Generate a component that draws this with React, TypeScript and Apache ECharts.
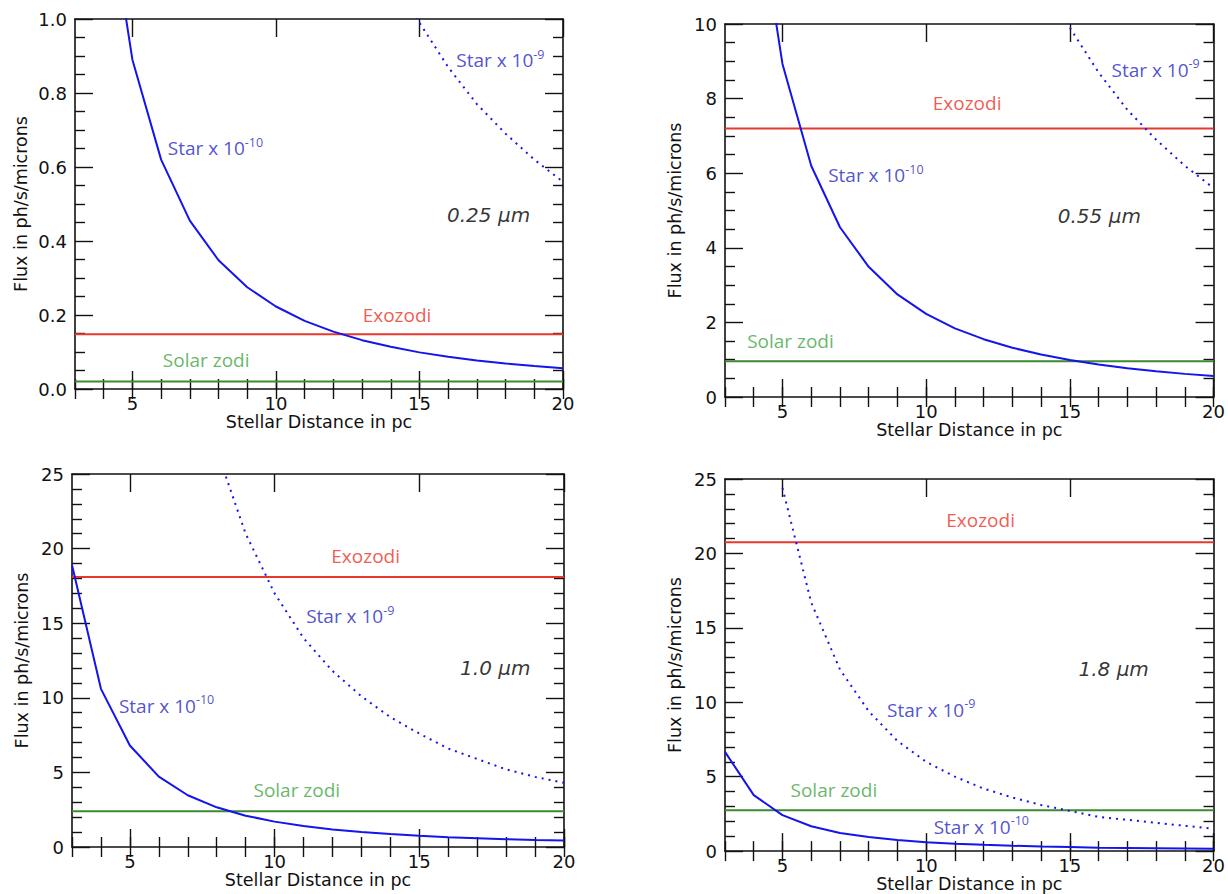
import React, { useEffect, useRef } from "react";
import * as echarts from "echarts";

// ---------- data ----------
const distances = [3, 4, 5, 6, 7, 8, 9, 10, 11, 12, 13, 14, 15, 16, 17, 18, 19, 20];
const majorXTicks = [5, 10, 15, 20];

// 0.25 micron
const star10_p025 = [null, 1.39, 0.89, 0.62, 0.455, 0.348, 0.275, 0.223, 0.184, 0.155, 0.132, 0.114, 0.099, 0.087, 0.077, 0.069, 0.062, 0.056];
const star9_p025 = [null, null, null, null, null, null, null, null, null, null, null, 1.14, 0.99, 0.87, 0.77, 0.69, 0.62, 0.56];
// 0.55 micron
const star10_p055 = [null, 13.9, 8.93, 6.2, 4.55, 3.49, 2.75, 2.23, 1.84, 1.55, 1.32, 1.14, 0.99, 0.87, 0.77, 0.69, 0.62, 0.56];
const star9_p055 = [null, null, null, null, null, null, null, null, null, null, null, 11.4, 9.9, 8.7, 7.7, 6.9, 6.2, 5.6];
// 1.0 micron
const star10_p10 = [18.9, 10.6, 6.8, 4.72, 3.47, 2.66, 2.1, 1.7, 1.4, 1.18, 1.0, 0.87, 0.76, 0.66, 0.59, 0.52, 0.47, 0.43];
const star9_p10 = [null, null, null, null, null, 26.6, 21.0, 17.0, 14.0, 11.8, 10.1, 8.7, 7.6, 6.6, 5.9, 5.2, 4.7, 4.3];
// 1.8 micron
const star10_p18 = [6.67, 3.76, 2.42, 1.67, 1.22, 0.94, 0.74, 0.6, 0.5, 0.42, 0.36, 0.31, 0.27, 0.23, 0.21, 0.19, 0.17, 0.15];
const star9_p18 = [null, null, 24.4, 16.7, 12.2, 9.4, 7.4, 6.0, 5.0, 4.2, 3.6, 3.1, 2.7, 2.3, 2.1, 1.9, 1.7, 1.5];

const wavelengths = ["0.25", "0.55", "1.0", "1.8"];
const exozodiLevels = [0.148, 7.2, 18.1, 20.75];
const solarZodiLevels = [0.02, 0.96, 2.4, 2.75];
const yMaxes = [1, 10, 25, 25];
const yIntervals = [0.2, 2, 5, 5];

// ---------- styles / layout ----------
const BLUE = "#1414ec";
const BLUE_TEXT = "#2626c4";
const RED = "#e8382e";
const RED_TEXT = "#ee2f25";
const GREEN = "#3d8b2e";
const GREEN_TEXT = "#3fa43f";
const INK = "#111111";
const FONT = "DejaVu Sans, Verdana, sans-serif";
const NOTE_FONT = "Open Sans, sans-serif";

const layouts = [
  {
    grid: { left: 75, top: 19, width: 488, height: 370 },
    ySplit: 4, yDecimals: 1, xNameGap: 21, yNameGap: 45,
    notes: { star10: [6.23, 0.651], star9: [16.28, 0.889], wl: [15.96, 0.47], exo: [13.02, 0.2], zodi: [6.06, 0.078] },
  },
  {
    grid: { left: 725, top: 24, width: 491, height: 373 },
    ySplit: 4, yDecimals: 0, xNameGap: 21, yNameGap: 41,
    notes: { star10: [6.59, 5.95], star9: [16.45, 8.77], wl: [14.58, 4.85], exo: [10.23, 7.88], zodi: [3.77, 1.5] },
  },
  {
    grid: { left: 72, top: 474, width: 492, height: 373 },
    ySplit: 5, yDecimals: 0, xNameGap: 14, yNameGap: 41,
    notes: { star10: [4.62, 9.47], star9: [11.09, 15.46], wl: [16.41, 12.02], exo: [11.96, 19.48], zodi: [9.27, 3.79] },
  },
  {
    grid: { left: 725, top: 479, width: 492, height: 373 },
    ySplit: 5, yDecimals: 0, xNameGap: 21, yNameGap: 41,
    notes: { star10: [10.26, 1.64], star9: [8.64, 9.5], wl: [15.3, 12.25], exo: [10.7, 22.25], zodi: [5.28, 4.09] },
  },
];

const star10Sets = [star10_p025, star10_p055, star10_p10, star10_p18];
const star9Sets = [star9_p025, star9_p055, star9_p10, star9_p18];

function pairs(values: (number | null)[]) {
  return distances
    .map((d, i) => [d, values[i]] as [number, number | null])
    .filter((p) => p[1] !== null);
}

const axisLineStyle = { show: true, onZero: false, lineStyle: { color: INK, width: 1.6 } };
const tickStyle = { color: INK, width: 1.4 };

function buildOption() {
  const grids: any[] = [];
  const xAxes: any[] = [];
  const yAxes: any[] = [];
  const series: any[] = [];

  layouts.forEach((L, k) => {
    grids.push({ ...L.grid, containLabel: false });
    const xBase = {
      type: "value", gridIndex: k, min: distances[0], max: distances[distances.length - 1],
      splitLine: { show: false },
    };
    xAxes.push({
      ...xBase, position: "bottom",
      axisLine: axisLineStyle,
      axisTick: { show: true, inside: true, length: 18, lineStyle: tickStyle, customValues: majorXTicks },
      axisLabel: { show: true, customValues: majorXTicks, fontFamily: FONT, fontSize: 18, color: INK, margin: 5 },
      name: "Stellar Distance in pc", nameLocation: "middle", nameGap: L.xNameGap,
      nameTextStyle: { fontFamily: FONT, fontSize: 17.5, color: INK },
    });
    xAxes.push({
      ...xBase, position: "bottom", interval: 1,
      axisLine: { show: false },
      axisTick: { show: true, inside: true, length: 10, lineStyle: tickStyle },
      axisLabel: { show: false },
    });
    xAxes.push({
      ...xBase, position: "top",
      axisLine: axisLineStyle,
      axisTick: { show: true, inside: true, length: 18, lineStyle: tickStyle, customValues: majorXTicks },
      axisLabel: { show: false },
    });
    xAxes.push({
      ...xBase, position: "top", interval: 1,
      axisLine: { show: false },
      axisTick: { show: true, inside: true, length: 10, lineStyle: tickStyle },
      axisLabel: { show: false },
    });

    const yBase = {
      type: "value", gridIndex: k, min: 0, max: yMaxes[k], interval: yIntervals[k],
      splitLine: { show: false },
      axisLine: axisLineStyle,
      axisTick: { show: true, inside: true, length: 18, lineStyle: tickStyle },
      minorTick: { show: true, splitNumber: L.ySplit, length: 10, lineStyle: tickStyle },
      minorSplitLine: { show: false },
    };
    yAxes.push({
      ...yBase, position: "left",
      axisLabel: {
        show: true, fontFamily: FONT, fontSize: 18, color: INK, margin: 8,
        formatter: (v: number) => v.toFixed(L.yDecimals),
      },
      name: "Flux in ph/s/microns", nameLocation: "middle", nameGap: L.yNameGap,
      nameTextStyle: { fontFamily: FONT, fontSize: 17.5, color: INK },
    });
    yAxes.push({ ...yBase, position: "right", axisLabel: { show: false } });

    const xi = 4 * k;
    const yi = 2 * k;
    const xMin = distances[0];
    const xMax = distances[distances.length - 1];
    series.push({
      type: "line", xAxisIndex: xi, yAxisIndex: yi, data: [[xMin, exozodiLevels[k]], [xMax, exozodiLevels[k]]],
      symbol: "none", lineStyle: { color: RED, width: 2 }, silent: true,
    });
    series.push({
      type: "line", xAxisIndex: xi, yAxisIndex: yi, data: [[xMin, solarZodiLevels[k]], [xMax, solarZodiLevels[k]]],
      symbol: "none", lineStyle: { color: GREEN, width: 2 }, silent: true,
    });
    series.push({
      type: "line", xAxisIndex: xi, yAxisIndex: yi, data: pairs(star9Sets[k]),
      symbol: "none", lineStyle: { color: BLUE, width: 2, type: [2, 5] }, silent: true,
    });
    series.push({
      type: "line", xAxisIndex: xi, yAxisIndex: yi, data: pairs(star10Sets[k]),
      symbol: "none", lineStyle: { color: BLUE, width: 2 }, silent: true,
    });

    const noteLabel = (formatter: string, rich: any) => ({
      show: true, position: [0, 0], align: "left", verticalAlign: "middle", formatter, rich,
    });
    const starRich = (c: string) => ({
      m: { fontFamily: NOTE_FONT, fontSize: 19, color: c, lineHeight: 25 },
      s: { fontFamily: NOTE_FONT, fontSize: 12.5, color: c, lineHeight: 14, verticalAlign: "top" },
    });
    const N = L.notes;
    series.push({
      type: "scatter", xAxisIndex: xi, yAxisIndex: yi, symbolSize: 0, silent: true, z: 10,
      data: [
        { value: N.star10, label: noteLabel("{m|Star x 10}{s|-10}", starRich(BLUE_TEXT)) },
        { value: N.star9, label: noteLabel("{m|Star x 10}{s|-9}", starRich(BLUE_TEXT)) },
        {
          value: N.wl,
          label: noteLabel(`{w|${wavelengths[k]} \u03bcm}`, {
            w: { fontFamily: FONT, fontSize: 20, fontStyle: "italic", color: "#000", lineHeight: 24 },
          }),
        },
        {
          value: N.exo,
          label: noteLabel("{t|Exozodi}", { t: { fontFamily: NOTE_FONT, fontSize: 19, color: RED_TEXT, lineHeight: 25 } }),
        },
        {
          value: N.zodi,
          label: noteLabel("{t|Solar zodi}", { t: { fontFamily: NOTE_FONT, fontSize: 19, color: GREEN_TEXT, lineHeight: 25 } }),
        },
      ],
    });
  });

  return {
    animation: false,
    backgroundColor: "#ffffff",
    grid: grids,
    xAxis: xAxes,
    yAxis: yAxes,
    series,
  };
}

export default function App() {
  const ref = useRef<HTMLDivElement>(null);
  useEffect(() => {
    if (!ref.current) return;
    const chart = echarts.init(ref.current, undefined, { renderer: "svg" });
    chart.setOption(buildOption() as any);
    return () => chart.dispose();
  }, []);
  return (
    <div
      ref={ref}
      style={{ position: "fixed", left: 0, top: 0, width: 1228, height: 894, background: "#fff" }}
    />
  );
}
